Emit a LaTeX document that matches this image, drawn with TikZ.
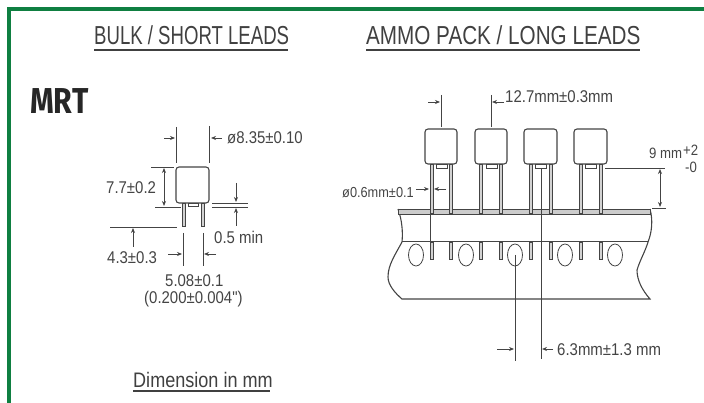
\documentclass[tikz,border=0pt]{standalone}
\usepackage{fontspec}
\usepackage{xcolor}
\usetikzlibrary{arrows.meta}
\setmainfont{Liberation Sans}
\newfontfamily\bulkfont[FakeStretch=0.715]{Liberation Sans}
\newfontfamily\ammofont[FakeStretch=0.795]{Liberation Sans}
\newfontfamily\notefont[FakeStretch=0.86]{Liberation Sans}
\newfontfamily\labelfont[FakeStretch=0.88]{Liberation Sans}
\newfontfamily\mrtfont[FakeStretch=0.84]{Fira Sans}
\definecolor{framegreen}{HTML}{0F7F41}
\definecolor{inkgray}{HTML}{444444}
\tikzset{
  dimtext/.style={inner sep=0pt, anchor=west, text=inkgray, font=\labelfont\fontsize{17}{19}\selectfont},
  smalltext/.style={inner sep=0pt, anchor=west, text=inkgray, font=\labelfont\fontsize{15}{17}\selectfont},
  heading/.style={inner sep=0pt, anchor=west, text=black!75},
  part/.style={draw=inkgray, line width=1.1pt},
  thinline/.style={draw=inkgray, line width=0.8pt},
  dimarrow/.style={draw=inkgray, line width=0.8pt, >={Stealth[length=5pt,width=4pt]}},
  leadwire/.style={draw=inkgray, line width=0.9pt, fill=gray!35},
  underline/.style={draw=black!75, line width=2pt}
}
\begin{document}
\begin{tikzpicture}[x=1pt,y=-1pt]
\useasboundingbox (0,0) rectangle (704,403);
\draw[framegreen, line width=4.5pt] (9,403) -- (9,9) -- (704,9);

\node[heading, font=\bulkfont\fontsize{26}{28}\selectfont] (bulktitle) at (94,35.5) {BULK / SHORT LEADS};
\node[heading, font=\ammofont\fontsize{26}{28}\selectfont] (ammotitle) at (366,35.5) {AMMO PACK / LONG LEADS};
\node[heading, font=\notefont\fontsize{21}{23}\selectfont] (dimnote) at (133,379.5) {Dimension in mm};
\node[inner sep=0pt, anchor=west, text=black!85, font=\mrtfont\bfseries\fontsize{36}{38}\selectfont] (mrt) at (30,101) {MRT};
\coordinate (bulkunder) at (94,50);
\coordinate (ammounder) at (366,50);
\coordinate (noteunder) at (133,391);
\draw[underline] (bulkunder) -- +(194,0);
\draw[underline] (ammounder) -- +(274,0);
\draw[underline] (noteunder) -- +(137,0);

\draw[part, rounded corners=3pt] (176,167) rectangle (209,203);
\draw[thinline] (188,203) rectangle (198,206);
\draw[leadwire] (182,203) rectangle (185,226);
\draw[leadwire] (201,203) rectangle (204,226);
\draw[thinline] (176.5,127) -- (176.5,163);
\draw[thinline] (209,126) -- (209,163);
\draw[->,dimarrow] (164,138) -- (175,138);
\draw[->,dimarrow] (222,138) -- (211,138);
\draw[thinline] (151,167) -- (174,167);
\draw[thinline] (155,207) -- (181,207);
\draw[<->,dimarrow] (164,168) -- (164,206);
\draw[thinline] (212,203) -- (248,203);
\draw[thinline] (212,207) -- (248,207);
\draw[->,dimarrow] (236,183) -- (236,202);
\draw[->,dimarrow] (236,226) -- (236,208);
\draw[thinline] (110,227) -- (177,227);
\draw[->,dimarrow] (133,247) -- (133,228);
\draw[thinline] (183,233) -- (183,266);
\draw[thinline] (203,233) -- (203,266);
\draw[->,dimarrow] (168,254) -- (182,254);
\draw[->,dimarrow] (216,254) -- (204,254);
\node[dimtext] (bodydia) at (227,138) {ø8.35±0.10};
\node[dimtext] (bodyheight) at (106,188) {7.7±0.2};
\node[dimtext] (gapmin) at (214,237) {0.5 min};
\node[dimtext] (leadlen) at (107,258) {4.3±0.3};
\node[dimtext] (leadpitch) at (165,281) {5.08±0.1};
\node[dimtext] (leadinch) at (144,299) {(0.200±0.004")};

\draw[part] (398,209) .. controls (402,220) and (403,232) .. (402,242) .. controls (395,255) and (388,265) .. (388,277) .. controls (388,285) and (395,293) .. (402,299) -- (650,299) .. controls (642,290) and (637,280) .. (637,270) .. controls (640,260) and (645,252) .. (648,242) .. controls (652,232) and (653,220) .. (650,209);
\draw[thinline, fill=gray!40] (398,209) rectangle (650,214);
\draw[draw=inkgray, line width=1.6pt] (402,241.5) -- (648,241.5);
\draw[thinline] (416,255) ellipse [x radius=7.5, y radius=11];
\draw[thinline] (466,255) ellipse [x radius=7.5, y radius=11];
\draw[thinline] (515,255) ellipse [x radius=7.5, y radius=11];
\draw[thinline] (565,255) ellipse [x radius=7.5, y radius=11];
\draw[thinline] (615,255) ellipse [x radius=7.5, y radius=11];

\draw[part, rounded corners=3pt] (425,129) rectangle (457,164);
\draw[part, rounded corners=3pt] (475,129) rectangle (507,164);
\draw[part, rounded corners=3pt] (524,129) rectangle (557,164);
\draw[part, rounded corners=3pt] (574,129) rectangle (607,164);
\draw[thinline] (436,164) rectangle (447,168);
\draw[thinline] (486,164) rectangle (497,168);
\draw[thinline] (535,164) rectangle (546,168);
\draw[thinline] (585,164) rectangle (596,168);
\draw[leadwire] (430,164) rectangle (433,213);
\draw[leadwire] (449.5,164) rectangle (452.5,213);
\draw[leadwire] (479.5,164) rectangle (482.5,213);
\draw[leadwire] (499.5,164) rectangle (502.5,213);
\draw[leadwire] (529.5,164) rectangle (532.5,213);
\draw[leadwire] (549.5,164) rectangle (552.5,213);
\draw[leadwire] (579.5,164) rectangle (582.5,213);
\draw[leadwire] (599,164) rectangle (602,213);
\draw[leadwire] (430,242) rectangle (433,259);
\draw[leadwire] (449.5,242) rectangle (452.5,259);
\draw[leadwire] (479.5,242) rectangle (482.5,259);
\draw[leadwire] (499.5,242) rectangle (502.5,259);
\draw[leadwire] (529.5,242) rectangle (532.5,259);
\draw[leadwire] (549.5,242) rectangle (552.5,259);
\draw[leadwire] (579.5,242) rectangle (582.5,259);
\draw[leadwire] (599,242) rectangle (602,259);
\draw[thinline] (430.5,213) -- (430.5,242);

\draw[thinline] (441,95) -- (441,127);
\draw[thinline] (491,95) -- (491,127);
\draw[->,dimarrow] (428,102) -- (440,102);
\draw[->,dimarrow] (504,102) -- (492,102);
\draw[->,dimarrow] (416,189) -- (429,189);
\draw[->,dimarrow] (446,189) -- (434,189);
\draw[thinline] (605,168) -- (665,168);
\draw[thinline] (652,208) -- (666,208);
\draw[<->,dimarrow] (660,169) -- (660,207);
\draw[thinline] (541,168) -- (541,359);
\draw[thinline] (515.5,255) -- (515.5,361);
\draw[->,dimarrow] (497,349) -- (514,349);
\draw[->,dimarrow] (553,349) -- (542,349);
\node[dimtext] (tapepitch) at (505,97) {12.7mm±0.3mm};
\node[inner sep=0pt, anchor=west, text=inkgray, font=\labelfont\fontsize{14.5}{16}\selectfont] (leaddia) at (342,193) {ø0.6mm±0.1};
\node[smalltext] (leadnine) at (649,153) {9 mm};
\node[smalltext] (upperplus) at (683,150) {+2};
\node[smalltext] (lowerminus) at (685,167) {-0};
\node[dimtext] (holeoffset) at (557,350) {6.3mm±1.3 mm};
\end{tikzpicture}
\end{document}
